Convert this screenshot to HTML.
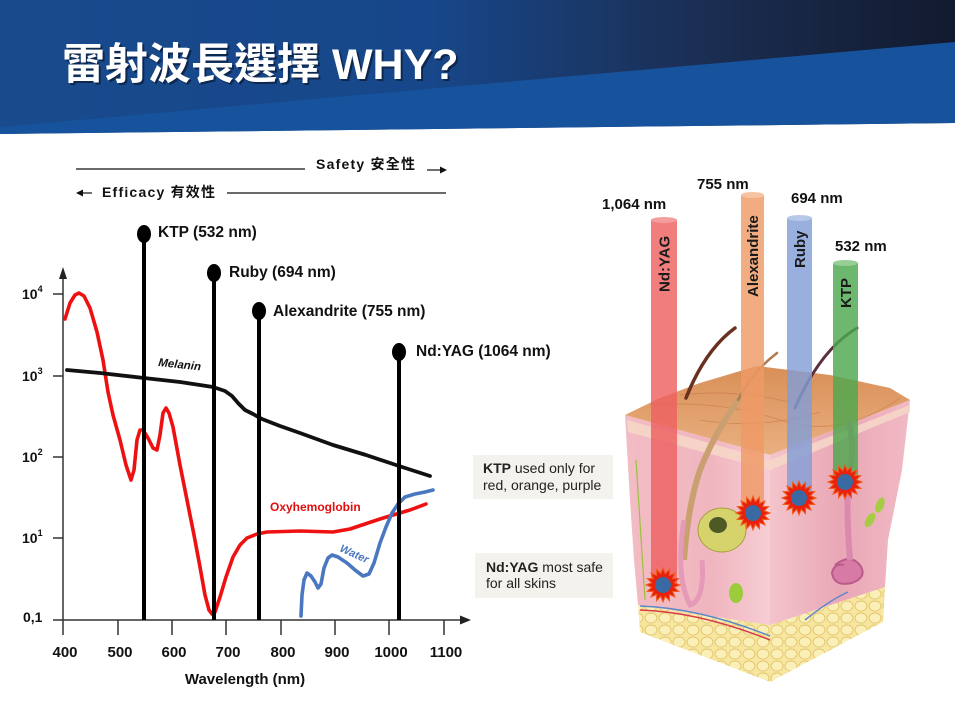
<!DOCTYPE html>
<html><head><meta charset="utf-8"><style>
html,body{margin:0;padding:0;background:#fff;}
svg{display:block;}
text{font-family:"Liberation Sans","Noto Sans CJK TC",sans-serif;}
</style></head><body>
<svg width="955" height="715" viewBox="0 0 955 715" xmlns="http://www.w3.org/2000/svg">
<defs>
<linearGradient id="hg" x1="0" x2="1" y1="0" y2="0">
<stop offset="0" stop-color="#184a8c"/><stop offset="0.45" stop-color="#17478a"/><stop offset="0.72" stop-color="#1b2f55"/><stop offset="1" stop-color="#121a2e"/></linearGradient>
<linearGradient id="lf" x1="0" x2="1" y1="0" y2="0"><stop offset="0" stop-color="#f2bcc4"/><stop offset="0.6" stop-color="#f0b6c0"/><stop offset="1" stop-color="#f7cdd3"/></linearGradient>
<linearGradient id="rf" x1="0" x2="1" y1="0" y2="0"><stop offset="0" stop-color="#f4c4cc"/><stop offset="0.5" stop-color="#e9a7b6"/><stop offset="1" stop-color="#f1bac4"/></linearGradient>
<linearGradient id="tp" x1="0" x2="0" y1="0" y2="1"><stop offset="0" stop-color="#d98f58"/><stop offset="1" stop-color="#e9b080"/></linearGradient>
<pattern id="fat" width="14" height="12" patternUnits="userSpaceOnUse">
<rect width="14" height="12" fill="#f7e6a0"/>
<ellipse cx="7" cy="6" rx="6" ry="5" fill="#fbefb8" stroke="#e3c66c" stroke-width="0.9"/>
</pattern>
<polygon id="star" points="17,0 11.28,2.24 15.71,6.51 9.56,6.39 12.02,12.02 6.39,9.56 6.51,15.71 2.24,11.28 0,17 -2.24,11.28 -6.51,15.71 -6.39,9.56 -12.02,12.02 -9.56,6.39 -15.71,6.51 -11.28,2.24 -17,0 -11.28,-2.24 -15.71,-6.51 -9.56,-6.39 -12.02,-12.02 -6.39,-9.56 -6.51,-15.71 -2.24,-11.28 0,-17 2.24,-11.28 6.51,-15.71 6.39,-9.56 12.02,-12.02 9.56,-6.39 15.71,-6.51 11.28,-2.24"/>
</defs>

<!-- Header -->
<polygon points="0,0 955,0 955,123 0,134" fill="url(#hg)"/>
<polygon points="0,127 955,42 955,123 0,134" fill="#17539c"/>
<text x="64" y="81" font-size="43" font-weight="bold" fill="#0b1a36" opacity="0.7">雷射波長選擇 WHY?</text>
<text x="62" y="79" font-size="43" font-weight="bold" fill="#ffffff">雷射波長選擇 WHY?</text>

<!-- Safety / Efficacy -->
<line x1="76" y1="169" x2="305" y2="169" stroke="#111" stroke-width="1.2"/>
<text x="316" y="169" font-size="14" font-weight="bold" fill="#111" textLength="99" lengthAdjust="spacing">Safety 安全性</text>
<line x1="427" y1="170" x2="441" y2="170" stroke="#111" stroke-width="1.2"/>
<polygon points="447,170 440,166.5 440,173.5" fill="#111"/>
<polygon points="76,193 83,189.5 83,196.5" fill="#111"/>
<line x1="82" y1="193" x2="92" y2="193" stroke="#111" stroke-width="1.2"/>
<text x="102" y="197" font-size="14" font-weight="bold" fill="#111" textLength="113" lengthAdjust="spacing">Efficacy 有效性</text>
<line x1="227" y1="193" x2="446" y2="193" stroke="#111" stroke-width="1.2"/>

<!-- Axes -->
<line x1="63" y1="620" x2="63" y2="276" stroke="#333" stroke-width="1.5"/>
<polygon points="63,267 59,279 67,279" fill="#222"/>
<line x1="53" y1="620" x2="462" y2="620" stroke="#333" stroke-width="1.5"/>
<polygon points="471,620 460,615.5 460,624.5" fill="#222"/>
<g stroke="#333" stroke-width="1.5">
<line x1="53" y1="294" x2="63" y2="294"/><line x1="53" y1="376" x2="63" y2="376"/><line x1="53" y1="457" x2="63" y2="457"/><line x1="53" y1="538" x2="63" y2="538"/>
<line x1="63" y1="620" x2="63" y2="635"/><line x1="118" y1="620" x2="118" y2="635"/><line x1="172" y1="620" x2="172" y2="635"/><line x1="226" y1="620" x2="226" y2="635"/><line x1="281" y1="620" x2="281" y2="635"/><line x1="335" y1="620" x2="335" y2="635"/><line x1="389" y1="620" x2="389" y2="635"/><line x1="444" y1="620" x2="444" y2="635"/>
</g>
<g font-size="14" font-weight="bold" fill="#111">
<text x="22" y="299">10<tspan font-size="9" dy="-7">4</tspan></text>
<text x="22" y="381">10<tspan font-size="9" dy="-7">3</tspan></text>
<text x="22" y="462">10<tspan font-size="9" dy="-7">2</tspan></text>
<text x="22" y="543">10<tspan font-size="9" dy="-7">1</tspan></text>
<text x="23" y="622">0,1</text>
</g>
<g font-size="15" font-weight="bold" fill="#111" text-anchor="middle">
<text x="65" y="657">400</text><text x="120" y="657">500</text><text x="174" y="657">600</text><text x="228" y="657">700</text><text x="283" y="657">800</text><text x="337" y="657">900</text><text x="391" y="657">1000</text><text x="446" y="657">1100</text>
<text x="245" y="684">Wavelength (nm)</text>
</g>

<!-- Curves -->
<polyline fill="none" stroke="#ee1111" stroke-width="3.6" stroke-linejoin="round" stroke-linecap="round" points="65,319 70,303 75,295 79,293 84,296 90,308 97,332 103,360 108,392 113,415 120,440 126,465 131,480 134,470 137,440 140,430 143,430 148,438 153,448 157,450 160,435 163,413 166,408 169,413 173,427 180,465 187,500 194,535 200,567 205,595 209,610 212,614 215,612 220,597 226,577 233,557 240,545 247,538 257,534 267,532 300,531 333,532 350,529 365,524 380,519 393,515 410,510 426,504"/>
<polyline fill="none" stroke="#111" stroke-width="3.8" stroke-linejoin="round" stroke-linecap="round" points="67,370 100,373 144,378 180,382 213,387 225,391 232,396 238,403 245,410 253,414 262,419 280,426 300,433 333,445 366,455 399,466 430,476"/>
<polyline fill="none" stroke="#4a78c0" stroke-width="3.6" stroke-linejoin="round" stroke-linecap="round" points="301,616 302,595 304,580 307,573 311,576 315,582 318,588 321,584 324,568 328,558 332,555 338,557 347,563 355,570 363,576 369,574 374,563 380,543 386,527 392,513 398,504 405,497 415,494 425,492 433,490"/>
<text x="158" y="366" font-size="11.5" font-weight="bold" font-style="italic" fill="#111" transform="rotate(6 158 366)">Melanin</text>
<text x="270" y="511" font-size="12" font-weight="bold" fill="#e01010">Oxyhemoglobin</text>
<text x="339" y="551" font-size="11" font-weight="bold" font-style="italic" fill="#4a78c0" transform="rotate(24 339 551)">Water</text>

<!-- Laser stems -->
<g stroke="#000" stroke-width="4">
<line x1="144" y1="234" x2="144" y2="620"/>
<line x1="214" y1="273" x2="214" y2="620"/>
<line x1="259" y1="311" x2="259" y2="620"/>
<line x1="399" y1="352" x2="399" y2="620"/>
</g>
<g fill="#000">
<ellipse cx="144" cy="234" rx="7" ry="9"/>
<ellipse cx="214" cy="273" rx="7" ry="9"/>
<ellipse cx="259" cy="311" rx="7" ry="9"/>
<ellipse cx="399" cy="352" rx="7" ry="9"/>
</g>
<g font-size="15.5" font-weight="bold" fill="#111">
<text x="158" y="237">KTP (532 nm)</text>
<text x="229" y="277">Ruby (694 nm)</text>
<text x="273" y="316">Alexandrite (755 nm)</text>
<text x="416" y="356">Nd:YAG (1064 nm)</text>
</g>

<!-- Text boxes -->
<rect x="473" y="455" width="140" height="44" fill="#f3f2ed"/>
<text x="483" y="473" font-size="14" fill="#222"><tspan font-weight="bold">KTP</tspan> used only for</text>
<text x="483" y="490" font-size="14" fill="#222">red, orange, purple</text>
<rect x="475" y="553" width="138" height="45" fill="#f3f2ed"/>
<text x="486" y="572" font-size="14" fill="#222"><tspan font-weight="bold">Nd:YAG</tspan> most safe</text>
<text x="486" y="588" font-size="14" fill="#222">for all skins</text>

<!-- Skin block -->
<polygon points="638,605 770,625 885,587 883,622 770,682 640,632" fill="url(#fat)"/>
<polygon points="625,415 770,455 770,625 638,605 634,560 630,500" fill="url(#lf)"/>
<polygon points="770,455 910,400 902,470 888,540 885,587 770,625" fill="url(#rf)"/>
<polygon points="627,420 770,460 910,405 910,412 770,470 628,432" fill="#f6d6c8" opacity="0.9"/>
<polygon points="625,415 660,398 700,383 757,366 830,375 890,388 910,400 770,455" fill="url(#tp)"/>
<g stroke="#c97a45" stroke-width="0.8" fill="none" opacity="0.7">
<path d="M650,405 Q720,400 780,420 T900,398"/>
<path d="M680,395 Q740,388 800,405"/>
<path d="M700,420 Q760,430 820,412"/>
</g>
<!-- inner details -->
<path d="M835,565 q15,-12 25,0 q8,12 -8,18 q-18,4 -20,-10 q2,-10 12,-8" fill="#d77aa6" stroke="#b95a8a" stroke-width="2"/>
<path d="M850,560 Q845,500 850,470 Q855,440 848,420" fill="none" stroke="#d98aae" stroke-width="6"/>
<ellipse cx="722" cy="530" rx="24" ry="22" fill="#d6d26c" stroke="#a8a040" stroke-width="1"/>
<ellipse cx="718" cy="525" rx="9" ry="8" fill="#4d5a25"/>
<path d="M755,378 Q720,420 700,470 Q688,505 684,560" fill="none" stroke="#caa070" stroke-width="6"/>
<path d="M684,520 Q675,575 690,605 Q705,600 702,560" fill="none" stroke="#e59ab8" stroke-width="5"/>
<ellipse cx="736" cy="593" rx="7" ry="10" fill="#9ccc3c"/>
<ellipse cx="870" cy="520" rx="4" ry="8" fill="#a6cc44" transform="rotate(30 870 520)"/>
<ellipse cx="880" cy="505" rx="4" ry="8" fill="#a6cc44" transform="rotate(20 880 505)"/>
<path d="M640,610 Q700,612 770,640" fill="none" stroke="#d8384a" stroke-width="1.5"/>
<path d="M640,606 Q700,608 770,636" fill="none" stroke="#5a88c8" stroke-width="1.5"/>
<path d="M805,620 Q830,600 848,592" fill="none" stroke="#5a88c8" stroke-width="1.5"/>
<path d="M636,460 Q640,520 645,600" fill="none" stroke="#9cc040" stroke-width="1.2"/>
<!-- hairs above skin -->
<path d="M735,328 Q705,350 686,398" fill="none" stroke="#6a3020" stroke-width="3.5" stroke-linecap="round"/>
<path d="M777,353 Q752,372 738,400" fill="none" stroke="#b07a50" stroke-width="2.5" stroke-linecap="round"/>
<path d="M857,328 Q820,350 795,408" fill="none" stroke="#5a3040" stroke-width="3" stroke-linecap="round"/>

<!-- Laser bars -->
<g opacity="0.82">
<rect x="651" y="220" width="26" height="365" fill="#ee6161"/>
<ellipse cx="664" cy="220" rx="13" ry="3" fill="#f48888"/>
<rect x="741" y="195" width="23" height="318" fill="#f09a66"/>
<ellipse cx="752.5" cy="195" rx="11.5" ry="3" fill="#f6b890"/>
<rect x="787" y="218" width="25" height="280" fill="#839ed6"/>
<ellipse cx="799.5" cy="218" rx="12.5" ry="3" fill="#a8bce4"/>
<rect x="833" y="263" width="25" height="219" fill="#4fa84f"/>
<ellipse cx="845.5" cy="263" rx="12.5" ry="3" fill="#80c480"/>
</g>
<g font-size="15" font-weight="bold" fill="#1a1a1a">
<text transform="translate(669.5 292) rotate(-90)">Nd:YAG</text>
<text transform="translate(758 297) rotate(-90)">Alexandrite</text>
<text transform="translate(805 268) rotate(-90)">Ruby</text>
<text transform="translate(851 308) rotate(-90)">KTP</text>
</g>
<g font-size="15" font-weight="bold" fill="#111">
<text x="602" y="209">1,064 nm</text>
<text x="697" y="189">755 nm</text>
<text x="791" y="203">694 nm</text>
<text x="835" y="251">532 nm</text>
</g>

<!-- Stars -->
<g>
<use href="#star" transform="translate(663 585)" fill="#e8200c" stroke="#f25a1a" stroke-width="1"/>
<circle cx="663" cy="585" r="8" fill="#3a6aa3"/>
<use href="#star" transform="translate(753 513)" fill="#e8200c" stroke="#f25a1a" stroke-width="1"/>
<circle cx="753" cy="513" r="8" fill="#3a6aa3"/>
<use href="#star" transform="translate(799 498)" fill="#e8200c" stroke="#f25a1a" stroke-width="1"/>
<circle cx="799" cy="498" r="8" fill="#3a6aa3"/>
<use href="#star" transform="translate(845 482)" fill="#e8200c" stroke="#f25a1a" stroke-width="1"/>
<circle cx="845" cy="482" r="8" fill="#3a6aa3"/>
</g>
</svg>
</body></html>
